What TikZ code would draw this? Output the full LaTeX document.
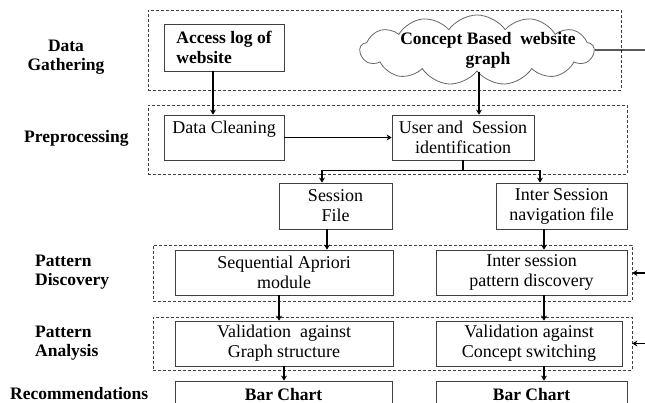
\documentclass[tikz,border=0pt]{standalone}
\usepackage{fontspec}
\setmainfont{Liberation Serif}
\usetikzlibrary{shapes.symbols,arrows.meta}
\begin{document}
\begin{tikzpicture}[x=1pt,y=-1pt,font=\fontsize{18}{20}\selectfont,
  box/.style={draw=black!75,line width=0.8pt,inner sep=0pt,align=center},
  grp/.style={draw=black!75,line width=0.6pt,dash pattern=on 3pt off 2pt,inner sep=0pt},
  lbl/.style={font=\fontsize{17.5}{19.5}\selectfont\bfseries,align=left,inner sep=0pt},
  bld/.style={font=\fontsize{17.5}{20}\selectfont\bfseries},
  flow/.style={line width=1.1pt,-{Stealth[length=5pt,width=6pt]}}]
\clip(0,0)rectangle(645,403);
%stages
\node[grp,minimum width=473,minimum height=80](g1)at(384.5,50){};
\node[grp,minimum width=479,minimum height=69](g2)at(387.5,139.5){};
\node[grp,minimum width=479,minimum height=56](g3)at(392.5,273){};
\node[grp,minimum width=479,minimum height=53](g4)at(392.5,343.5){};
\node[lbl,align=center]at(66,57){Data\\Gathering};
\node[lbl,anchor=west]at(24,138){Preprocessing};
\node[lbl,anchor=west]at(35,272){Pattern\\Discovery};
\node[lbl,anchor=west]at(35,343){Pattern\\Analysis};
\node[lbl,anchor=west]at(10,394){Recommendations};
%blocks
\node[box,bld,minimum width=120,minimum height=47,align=left](acc)at(224,47.5){Access log of\\ website};
\node[cloud,cloud puffs=13,cloud puff arc=110,draw=black!60,line width=0.8pt,minimum width=234,minimum height=70,inner sep=0pt](cld)at(477,50){};
\node[bld,align=center,inner sep=0pt](cldt)at(488,50){Concept Based~ website\\graph};
\node[box,minimum width=120,minimum height=45](cln)at(224,137.5){Data Cleaning\\~};
\node[box,minimum width=142,minimum height=45](usr)at(463,137.5){User and~ Session\\identification};
\node[box,minimum width=113,minimum height=46](ses)at(335.5,206){Session\\File};
\node[box,minimum width=131,minimum height=46](nav)at(561.5,206){Inter Session\\navigation file};
\node[box,minimum width=218,minimum height=45](apr)at(284,272.5){Sequential Apriori\\module};
\node[box,minimum width=191,minimum height=45](isp)at(531.5,272.5){Inter session\\pattern discovery};
\node[box,minimum width=218,minimum height=45](vgr)at(284,343.5){Validation~ against\\Graph structure};
\node[box,minimum width=186,minimum height=45](vcs)at(529,343.5){Validation against\\Concept switching};
\node[box,bld,minimum width=217,minimum height=46](bc1)at(283.5,404){Bar Chart\\~};
\node[box,bld,minimum width=191,minimum height=46](bc2)at(531.5,404){Bar Chart\\~};
%columns
\coordinate(c1)at(213,0);
\coordinate(c2)at(327,0);
\coordinate(c3)at(279,0);
\coordinate(c4)at(284,0);
\coordinate(c5)at(479,0);
\coordinate(cR)at(544,0);
\coordinate(sL)at(322,0);
\coordinate(sR)at(540,0);
\coordinate(e1)at(650,50);
\coordinate(e3)at(650,273);
\coordinate(e4)at(650,343.5);
%arrows
\draw[flow](acc.south-|c1)--(cln.north-|c1);
\draw[flow](cld.south-|c5)--(usr.north-|c5);
\draw[flow](cln)--(usr);
\draw[flow](usr.south)--++(0,10)-|(ses.north-|sL);
\draw[flow](usr.south)--++(0,10)-|(nav.north-|sR);
\draw[flow](ses.south-|c2)--(apr.north-|c2);
\draw[flow](apr.south-|c3)--(vgr.north-|c3);
\draw[flow](vgr.south-|c4)--(bc1.north-|c4);
\draw[flow](nav.south-|cR)--(isp.north-|cR);
\draw[flow](isp.south-|cR)--(vcs.north-|cR);
\draw[flow](vcs.south-|cR)--(bc2.north-|cR);
\draw[line width=1.1pt](cld.east)--(e1);
\draw[flow](e3)--(g3.east);
\draw[flow](e4)--(g4.east);
\end{tikzpicture}
\end{document}
